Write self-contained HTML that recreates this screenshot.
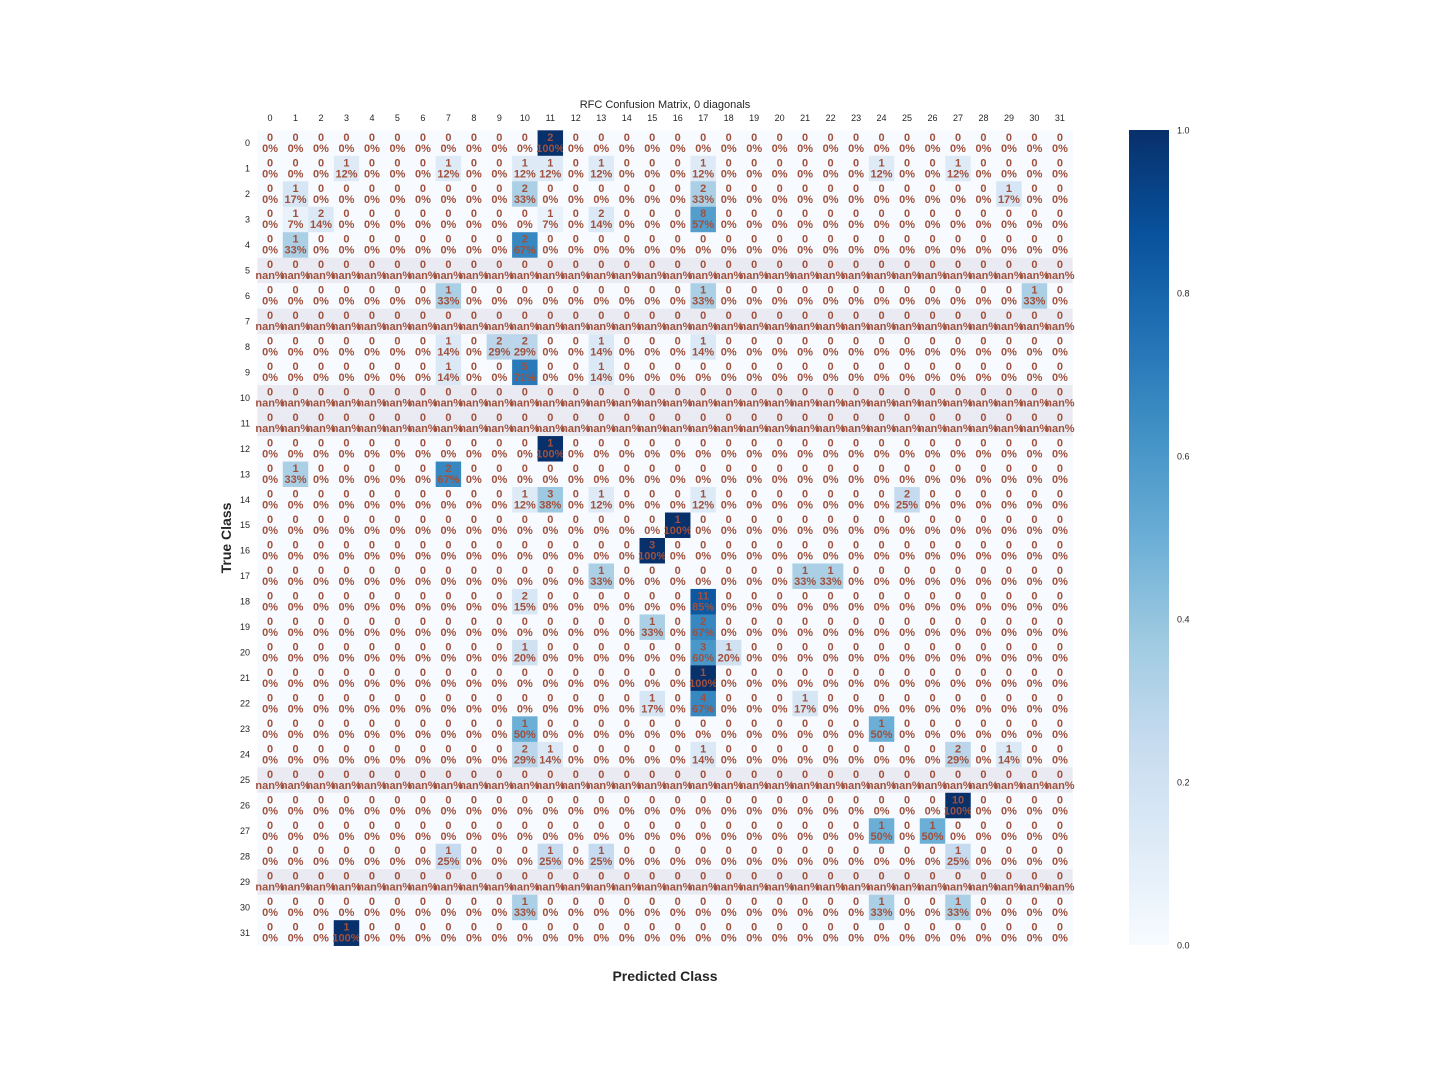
<!DOCTYPE html>
<html><head><meta charset="utf-8"><style>
html,body{margin:0;padding:0;background:#fff;width:1440px;height:1080px;overflow:hidden}
svg text{font-family:"Liberation Sans",sans-serif}
</style></head><body>
<svg id="chart" width="1440" height="1080" xmlns="http://www.w3.org/2000/svg">
<defs><linearGradient id="cbg" x1="0" y1="1" x2="0" y2="0">
<stop offset="0" stop-color="#f7fbff"/><stop offset="0.125" stop-color="#deebf7"/><stop offset="0.25" stop-color="#c6dbef"/><stop offset="0.375" stop-color="#9ecae1"/><stop offset="0.5" stop-color="#6baed6"/><stop offset="0.625" stop-color="#4292c6"/><stop offset="0.75" stop-color="#2171b5"/><stop offset="0.875" stop-color="#08519c"/><stop offset="1" stop-color="#08306b"/>
</linearGradient></defs>
<text x="665" y="108" font-size="11" text-anchor="middle" fill="#262626">RFC Confusion Matrix, 0 diagonals</text>
<text transform="translate(231,538) rotate(-90)" font-size="14" font-weight="bold" text-anchor="middle" fill="#262626">True Class</text>
<text x="665" y="981" font-size="14" font-weight="bold" text-anchor="middle" fill="#262626">Predicted Class</text>
<g id="cells"></g>
<g id="xt"></g>
<g id="yt"></g>
<rect x="1129" y="130" width="40" height="815" fill="url(#cbg)"/>
<g id="cb"></g>
</svg>
<script>
const classes = Array.from({length:32},(_,i)=>String(i));
// nonzero entries: [row, col, count]
const entries = [
[0,11,2],
[1,3,1],[1,7,1],[1,10,1],[1,11,1],[1,13,1],[1,17,1],[1,24,1],[1,27,1],
[2,1,1],[2,10,2],[2,17,2],[2,29,1],
[3,1,1],[3,2,2],[3,11,1],[3,13,2],[3,17,8],
[4,1,1],[4,10,2],
[6,7,1],[6,17,1],[6,30,1],
[8,7,1],[8,9,2],[8,10,2],[8,13,1],[8,17,1],
[9,7,1],[9,10,5],[9,13,1],
[12,11,1],
[13,1,1],[13,7,2],
[14,10,1],[14,11,3],[14,13,1],[14,17,1],[14,25,2],
[15,16,1],
[16,15,3],
[17,13,1],[17,21,1],[17,22,1],
[18,10,2],[18,17,11],
[19,15,1],[19,17,2],
[20,10,1],[20,17,3],[20,18,1],
[21,17,1],
[22,15,1],[22,17,4],[22,21,1],
[23,10,1],[23,24,1],
[24,10,2],[24,11,1],[24,17,1],[24,27,2],[24,29,1],
[26,27,10],
[27,24,1],[27,26,1],
[28,7,1],[28,11,1],[28,13,1],[28,27,1],
[30,10,1],[30,24,1],[30,27,1],
[31,3,1]
];
const cbTicks = [0,0.2,0.4,0.6,0.8,1.0];

const X0=257.3, Y0=130.3, CW=25.48, N=classes.length;
const xs=i=>X0+i*CW, ys=i=>Y0+i*CW;
const stops=["#f7fbff","#deebf7","#c6dbef","#9ecae1","#6baed6","#4292c6","#2171b5","#08519c","#08306b"];
function hex(h){return [1,3,5].map(k=>parseInt(h.substr(k,2),16));}
function blues(v){v=Math.max(0,Math.min(1,v));const p=v*8,i=Math.min(7,Math.floor(p)),t=p-i;const a=hex(stops[i]),b=hex(stops[i+1]);return `rgb(${a.map((c,k)=>Math.round(c+(b[k]-c)*t)).join(',')})`;}
function roundEven(x){const f=Math.floor(x),d=x-f;if(Math.abs(d-0.5)<1e-9)return f%2===0?f:f+1;return Math.round(x);}
const M=classes.map(()=>classes.map(()=>0));
entries.forEach(([r,c,v])=>{M[r][c]=v;});
const NS="http://www.w3.org/2000/svg";
function el(tag,attrs,parent){const e=document.createElementNS(NS,tag);for(const k in attrs)e.setAttribute(k,attrs[k]);parent.appendChild(e);return e;}
const cells=document.getElementById('cells');
for(let r=0;r<N;r++){
  const tot=M[r].reduce((a,b)=>a+b,0);
  if(tot===0){const bg=el('rect',{x:xs(0),y:ys(r),width:CW*N,height:CW,fill:'#eaeaf2'},cells);
    
    }
  for(let c=0;c<N;c++){
    const v=M[r][c];
    if(tot>0){const rc=el('rect',{x:xs(c),y:ys(r),width:CW+0.3,height:CW+0.3,fill:blues(v/tot)},cells);
      
      }
    const pct=tot>0?roundEven(v/tot*100)+'%':'nan%';
    const t=el('text',{x:xs(c)+CW/2,y:ys(r)+10.5,'font-size':11,'font-weight':'bold','text-anchor':'middle',fill:'#a0503c'},cells);
    
    
    t.textContent=v;
    const t2=el('text',{x:xs(c)+CW/2,y:ys(r)+21.5,'font-size':11,'font-weight':'bold','text-anchor':'middle',fill:'#a0503c'},cells);
    
    
    t2.textContent=pct;
  }
}
const xt=document.getElementById('xt'),yt=document.getElementById('yt');
classes.forEach((c,i)=>{
  const a=el('text',{x:xs(i)+CW/2,y:121,'font-size':9,'text-anchor':'middle',fill:'#262626'},xt);
  
  
  a.textContent=c;
  const b=el('text',{x:250,y:ys(i)+CW/2+3,'font-size':9,'text-anchor':'end',fill:'#262626'},yt);
  
  
  b.textContent=c;
});
const cb=document.getElementById('cb');
cbTicks.forEach(v=>{
  const t=el('text',{x:1177,y:945-v*815+3.5,'font-size':9,fill:'#262626'},cb);
  
  
  t.textContent=v.toFixed(1);
});
</script>
</body></html>
